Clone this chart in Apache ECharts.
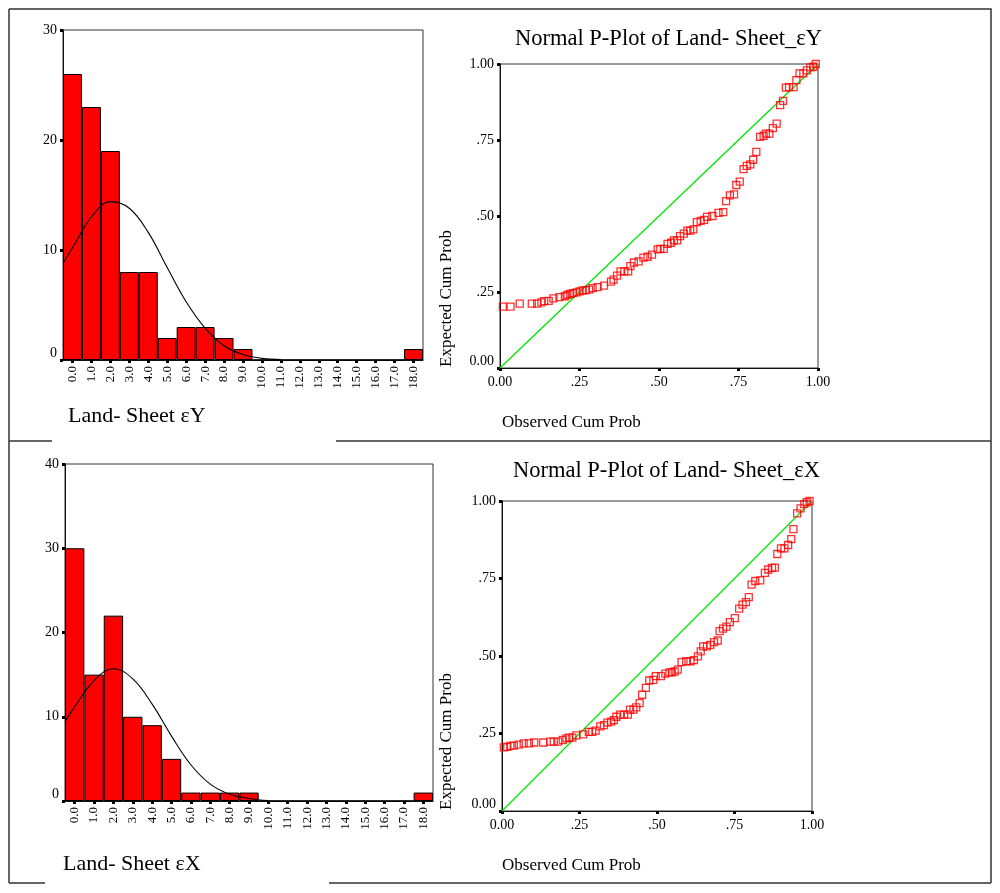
<!DOCTYPE html>
<html>
<head>
<meta charset="utf-8">
<script src="https://cdn.jsdelivr.net/npm/echarts@6/dist/echarts.min.js"></script>
<style>
html,body{margin:0;padding:0;background:#fff;}
#chart{width:1000px;height:893px;}
</style>
</head>
<body>
<div id="chart"></div>
<script>
// ---------- DATA ----------
const binLabels = ['0.0','1.0','2.0','3.0','4.0','5.0','6.0','7.0','8.0','9.0','10.0','11.0','12.0','13.0','14.0','15.0','16.0','17.0','18.0'];
const countsY = [26,23,19,8,8,2,3,3,2,1,0,0,0,0,0,0,0,0,1];
const countsX = [30,15,22,10,9,5,1,1,1,1,0,0,0,0,0,0,0,0,1];
const curveYx = [-0.5,0,1,2,3,4,5,6,7,8,9,10,11];
const curveYv = [8.8,10.2,13.0,14.4,13.8,11.6,8.4,5.3,2.9,1.3,0.5,0.15,0.03];
const curveXx = [-0.5,0,1,2,3,4,5,6,7,8,9,10];
const curveXv = [9.4,11.2,14.3,15.7,14.5,11.5,7.7,4.3,2.0,0.8,0.3,0.05];
const refLine = [[0,0],[1,1]];

const obsY = [0.009,0.033,0.062,0.10,0.117,0.13,0.139,0.153,0.168,0.187,0.204,0.212,0.221,0.23,0.241,0.25,0.26,0.27,0.28,0.291,0.307,0.327,0.349,0.357,0.368,0.379,0.391,0.403,0.41,0.421,0.436,0.451,0.464,0.478,0.496,0.504,0.515,0.527,0.538,0.547,0.557,0.566,0.578,0.589,0.598,0.608,0.619,0.631,0.642,0.651,0.668,0.687,0.702,0.711,0.723,0.736,0.743,0.754,0.766,0.776,0.787,0.796,0.806,0.818,0.829,0.836,0.847,0.858,0.87,0.881,0.89,0.899,0.909,0.923,0.932,0.942,0.954,0.965,0.976,0.985,0.993];
const expY = [0.202,0.202,0.212,0.212,0.212,0.216,0.22,0.221,0.229,0.233,0.236,0.241,0.244,0.246,0.249,0.252,0.255,0.256,0.258,0.263,0.266,0.271,0.284,0.291,0.304,0.318,0.318,0.318,0.335,0.347,0.351,0.363,0.366,0.373,0.39,0.392,0.392,0.408,0.412,0.42,0.42,0.434,0.442,0.452,0.452,0.456,0.48,0.484,0.487,0.497,0.5,0.51,0.513,0.549,0.568,0.571,0.602,0.613,0.654,0.665,0.67,0.685,0.711,0.76,0.764,0.771,0.771,0.789,0.804,0.865,0.879,0.922,0.924,0.924,0.947,0.969,0.969,0.979,0.989,0.991,1.0];
const obsX = [0.006,0.017,0.027,0.038,0.054,0.07,0.087,0.104,0.133,0.156,0.167,0.181,0.196,0.208,0.216,0.227,0.24,0.262,0.28,0.291,0.302,0.317,0.329,0.34,0.352,0.361,0.369,0.381,0.394,0.406,0.413,0.424,0.433,0.444,0.452,0.464,0.475,0.488,0.496,0.513,0.527,0.54,0.548,0.557,0.567,0.579,0.594,0.608,0.619,0.632,0.641,0.649,0.661,0.672,0.684,0.696,0.702,0.713,0.724,0.735,0.751,0.765,0.776,0.787,0.796,0.805,0.817,0.833,0.848,0.859,0.871,0.88,0.888,0.9,0.911,0.923,0.933,0.94,0.952,0.963,0.975,0.983,0.992];
const expX = [0.205,0.207,0.21,0.211,0.214,0.218,0.218,0.221,0.221,0.224,0.224,0.224,0.229,0.234,0.237,0.237,0.244,0.247,0.255,0.255,0.259,0.273,0.277,0.285,0.288,0.293,0.304,0.311,0.311,0.311,0.327,0.327,0.334,0.348,0.375,0.397,0.421,0.423,0.435,0.435,0.443,0.447,0.447,0.45,0.456,0.48,0.483,0.483,0.487,0.499,0.515,0.531,0.531,0.536,0.545,0.55,0.58,0.588,0.595,0.609,0.622,0.653,0.666,0.674,0.69,0.73,0.742,0.744,0.768,0.779,0.784,0.785,0.829,0.847,0.847,0.858,0.877,0.909,0.96,0.976,0.99,0.996,1.0];

const titleTop = 'Normal P-Plot of Land- Sheet_εY';
const titleBottom = 'Normal P-Plot of Land- Sheet_εX';
const histNameTop = 'Land- Sheet εY';
const histNameBottom = 'Land- Sheet εX';
const obsName = 'Observed Cum Prob';
const expName = 'Expected Cum Prob';

// ---------- STYLE ----------
const SERIF = '"Liberation Serif","Times New Roman","DejaVu Serif",serif';
const pair = (a, b) => a.map((v, i) => [v, b[i]]);

const tickStyle = {show: true, inside: false, length: 3, lineStyle: {color: '#000', width: 3}};
const lineStyleAxis = {show: true, onZero: false, lineStyle: {color: '#111', width: 1}};

function zeroRich(size) {
  return {z: {fontFamily: SERIF, fontSize: size, color: '#000', padding: [0, 0, 14, 0]}};
}
function histYAxis(grid, max) {
  return {
    type: 'value', gridIndex: grid, min: 0, max: max, interval: 10,
    axisLine: lineStyleAxis, axisTick: tickStyle, splitLine: {show: false},
    axisLabel: {fontFamily: SERIF, fontSize: 14, color: '#000', margin: 6,
      formatter: v => v === 0 ? '{z|0}' : String(v), rich: zeroRich(14)}
  };
}
function histXAxis(grid) {
  return {
    type: 'category', gridIndex: grid, data: binLabels, boundaryGap: true,
    axisLine: lineStyleAxis,
    axisTick: Object.assign({alignWithLabel: true, interval: 0}, tickStyle),
    axisLabel: {rotate: 90, interval: 0, fontFamily: SERIF, fontSize: 13, color: '#000', margin: 6}
  };
}
function curveAxis(grid) {
  return {type: 'value', gridIndex: grid, min: -0.5, max: 18.5, show: false,
    axisLine: {show: false, onZero: false}};
}
function probFmt(v) {
  if (v === 0) return '0.00';
  if (v === 1) return '1.00';
  return '.' + String(Math.round(v * 100)).padStart(2, '0');
}
function probXAxis(grid) {
  return {
    type: 'value', gridIndex: grid, min: 0, max: 1, interval: 0.25,
    axisLine: lineStyleAxis, axisTick: tickStyle, splitLine: {show: false},
    axisLabel: {fontFamily: SERIF, fontSize: 14, color: '#000', margin: 7, formatter: probFmt}
  };
}
function probYAxis(grid) {
  return {
    type: 'value', gridIndex: grid, min: 0, max: 1, interval: 0.25,
    axisLine: lineStyleAxis, axisTick: tickStyle, splitLine: {show: false},
    axisLabel: {fontFamily: SERIF, fontSize: 14, color: '#000', margin: 6,
      formatter: v => v === 0 ? '{z|0.00}' : probFmt(v), rich: zeroRich(14)}
  };
}

const gridBase = {show: true, borderColor: '#333', borderWidth: 1, backgroundColor: '#fff', containLabel: false};
const barStyle = {color: '#ff0000', borderColor: '#000', borderWidth: 1};
const markerStyle = {color: 'rgba(255,255,255,0)', borderColor: '#ff0000', borderWidth: 1.3};
const greenStyle = {color: '#00e600', width: 1.3};

function textEl(x, y, text, size, rot) {
  const el = {type: 'text', x: x, y: y, silent: true,
    style: {text: text, font: size + 'px ' + SERIF, fill: '#000', textAlign: 'left', textVerticalAlign: 'middle'}};
  if (rot) el.rotation = Math.PI / 2;
  return el;
}
function lineEl(pts) {
  return {type: 'polyline', silent: true, shape: {points: pts}, style: {stroke: '#333', lineWidth: 1.5, fill: null}};
}

const option = {
  animation: false,
  backgroundColor: '#fff',
  grid: [
    Object.assign({left: 63, top: 30, width: 360, height: 330}, gridBase),
    Object.assign({left: 500, top: 64, width: 318, height: 304}, gridBase),
    Object.assign({left: 65, top: 464, width: 368, height: 337}, gridBase),
    Object.assign({left: 502, top: 501, width: 310, height: 310}, gridBase)
  ],
  xAxis: [
    histXAxis(0), curveAxis(0),
    probXAxis(1),
    histXAxis(2), curveAxis(2),
    probXAxis(3)
  ],
  yAxis: [
    histYAxis(0, 30),
    probYAxis(1),
    histYAxis(2, 40),
    probYAxis(3)
  ],
  series: [
    {type: 'bar', xAxisIndex: 0, yAxisIndex: 0, data: countsY, barCategoryGap: '0%', itemStyle: barStyle, silent: true},
    {type: 'line', xAxisIndex: 1, yAxisIndex: 0, data: pair(curveYx, curveYv), smooth: 0.4, symbol: 'none',
      lineStyle: {color: '#000', width: 1.1}, silent: true, z: 5},
    {type: 'line', xAxisIndex: 2, yAxisIndex: 1, data: refLine, symbol: 'none',
      lineStyle: greenStyle, silent: true, z: 2},
    {type: 'scatter', xAxisIndex: 2, yAxisIndex: 1, data: pair(obsY, expY), symbol: 'rect', symbolSize: 7,
      itemStyle: markerStyle, silent: true, z: 3},
    {type: 'bar', xAxisIndex: 3, yAxisIndex: 2, data: countsX, barCategoryGap: '0%', itemStyle: barStyle, silent: true},
    {type: 'line', xAxisIndex: 4, yAxisIndex: 2, data: pair(curveXx, curveXv), smooth: 0.4, symbol: 'none',
      lineStyle: {color: '#000', width: 1.1}, silent: true, z: 5},
    {type: 'line', xAxisIndex: 5, yAxisIndex: 3, data: refLine, symbol: 'none',
      lineStyle: greenStyle, silent: true, z: 2},
    {type: 'scatter', xAxisIndex: 5, yAxisIndex: 3, data: pair(obsX, expX), symbol: 'rect', symbolSize: 7,
      itemStyle: markerStyle, silent: true, z: 3}
  ],
  graphic: [
    lineEl([[9, 9], [991, 9], [991, 883]]),
    lineEl([[9, 9], [9, 883]]),
    lineEl([[9, 441], [52, 441]]),
    lineEl([[336, 441], [991, 441]]),
    lineEl([[9, 883], [45, 883]]),
    lineEl([[329, 883], [991, 883]]),
    textEl(515, 39, titleTop, 22.5),
    textEl(513, 471, titleBottom, 22.5),
    textEl(68, 416, histNameTop, 22),
    textEl(63, 864, histNameBottom, 22),
    textEl(502, 423, obsName, 17),
    textEl(502, 866, obsName, 17),
    textEl(447, 367, expName, 17, true),
    textEl(447, 810, expName, 17, true)
  ]
};

const chart = echarts.init(document.getElementById('chart'), null, {renderer: 'canvas'});
chart.setOption(option);
</script>
</body>
</html>
